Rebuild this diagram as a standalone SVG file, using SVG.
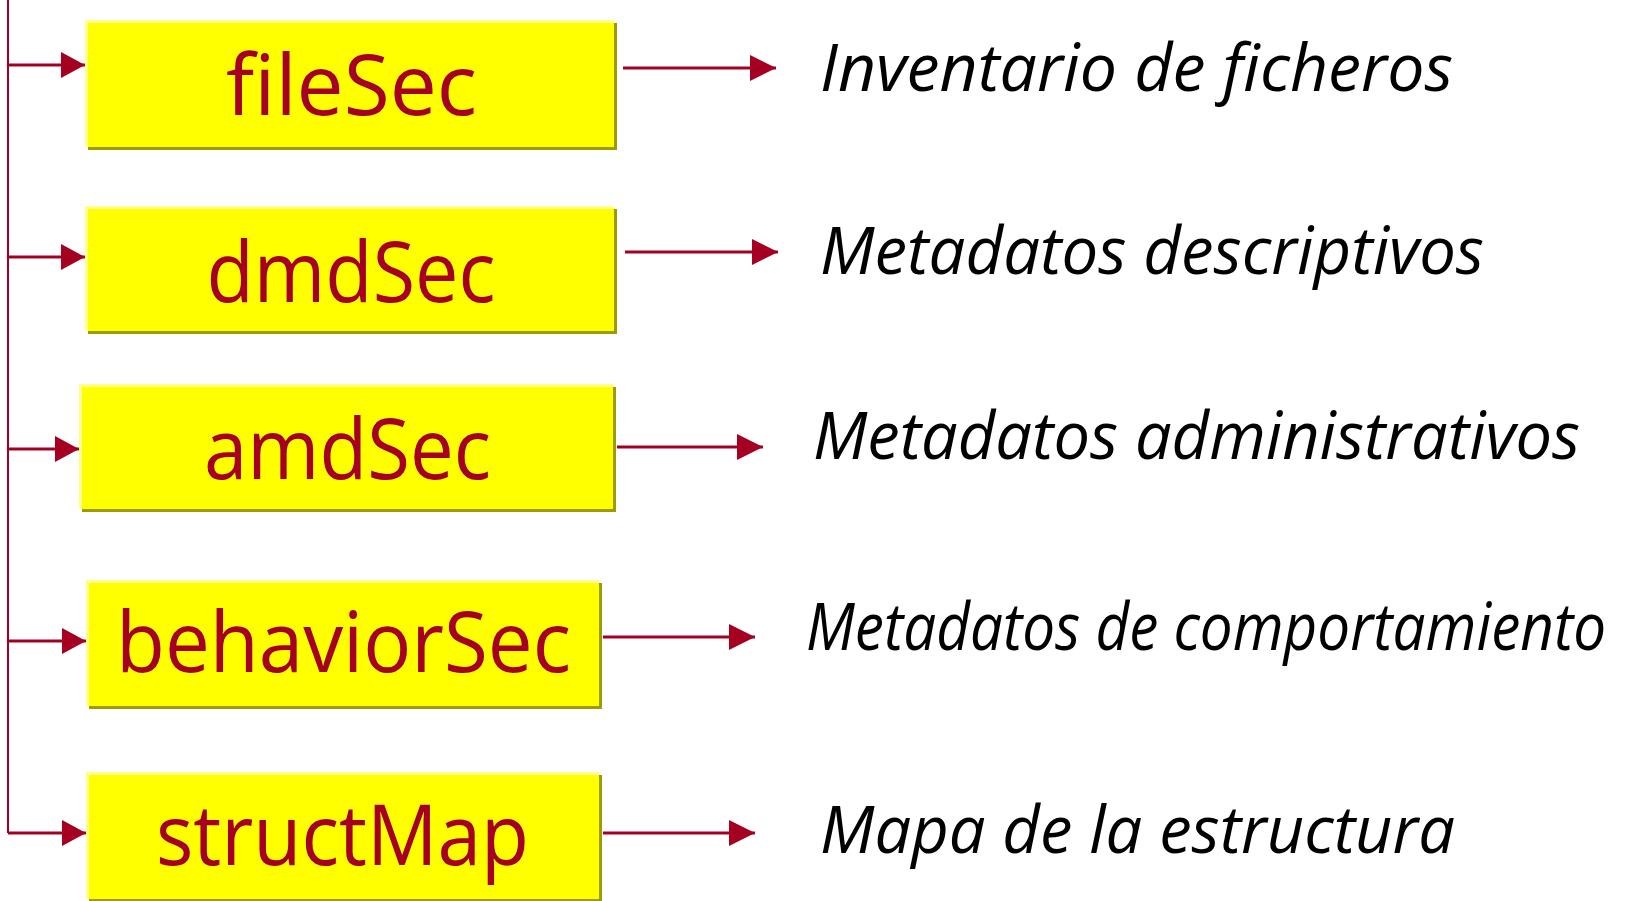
<svg xmlns="http://www.w3.org/2000/svg" width="1640" height="901" viewBox="0 0 1640 901">
<defs>
<style>
.shadow{fill:#9c9c00}
.rim{fill:#ffff8c}
.face{fill:#ffff00}
.lbl{font-family:"Open Sans","Noto Sans","DejaVu Sans",sans-serif;font-size:85px;fill:#a50021;text-anchor:middle}
.desc{font-family:"Open Sans","Noto Sans","DejaVu Sans",sans-serif;font-style:italic;font-size:66px;fill:#000}
.ln{stroke:#a50021;stroke-width:3;fill:none}
.trunk{stroke:#a50021;stroke-width:2;fill:none}
</style>
<marker id="ah" viewBox="0 0 24 26" refX="24" refY="13" markerWidth="24" markerHeight="26" markerUnits="userSpaceOnUse" orient="auto">
<path d="M0,0 L24,13 L0,26 Z" fill="#a50021"/>
</marker>
<marker id="ah2" viewBox="0 0 26 26" refX="26" refY="13" markerWidth="26" markerHeight="26" markerUnits="userSpaceOnUse" orient="auto">
<path d="M0,0 L26,13 L0,26 Z" fill="#a50021"/>
</marker>
</defs>
<rect width="1640" height="901" fill="#fff"/>
<g id="connectors">
<path class="trunk" d="M8,0 V833"/>
<path class="ln" d="M8,65 H85" marker-end="url(#ah)"/>
<path class="ln" d="M8,257 H85" marker-end="url(#ah)"/>
<path class="ln" d="M8,449 H79" marker-end="url(#ah)"/>
<path class="ln" d="M8,641 H86" marker-end="url(#ah)"/>
<path class="ln" d="M8,833 H86" marker-end="url(#ah)"/>
<path class="ln" d="M623,68 H776" marker-end="url(#ah2)"/>
<path class="ln" d="M625,252 H778" marker-end="url(#ah2)"/>
<path class="ln" d="M617,447 H763" marker-end="url(#ah2)"/>
<path class="ln" d="M603,637 H755" marker-end="url(#ah2)"/>
<path class="ln" d="M603,833 H755" marker-end="url(#ah2)"/>
</g>
<g id="fileSec">
<rect class="shadow" x="88" y="23" width="529" height="127"/>
<rect class="rim" x="85" y="20" width="529" height="127"/>
<rect class="face" x="88" y="23" width="526" height="124"/>
<text class="lbl" x="351.5" y="115" textLength="251" lengthAdjust="spacingAndGlyphs">fileSec</text>
</g>
<g id="dmdSec">
<rect class="shadow" x="88" y="209" width="529" height="125"/>
<rect class="rim" x="85" y="206" width="529" height="125"/>
<rect class="face" x="88" y="209" width="526" height="122"/>
<text class="lbl" x="351" y="302" textLength="289" lengthAdjust="spacingAndGlyphs">dmdSec</text>
</g>
<g id="amdSec">
<rect class="shadow" x="82" y="387" width="534" height="125"/>
<rect class="rim" x="79" y="384" width="534" height="125"/>
<rect class="face" x="82" y="387" width="531" height="122"/>
<text class="lbl" x="347.5" y="479" textLength="287" lengthAdjust="spacingAndGlyphs">amdSec</text>
</g>
<g id="behaviorSec">
<rect class="shadow" x="89" y="583" width="513" height="126"/>
<rect class="rim" x="86" y="580" width="513" height="126"/>
<rect class="face" x="89" y="583" width="510" height="123"/>
<text class="lbl" x="343.5" y="672" textLength="455" lengthAdjust="spacingAndGlyphs">behaviorSec</text>
</g>
<g id="structMap">
<rect class="shadow" x="89" y="775" width="513" height="127"/>
<rect class="rim" x="86" y="772" width="513" height="127"/>
<rect class="face" x="89" y="775" width="510" height="124"/>
<text class="lbl" x="342.5" y="865" textLength="373" lengthAdjust="spacingAndGlyphs">structMap</text>
</g>
<g id="descriptions">
<text class="desc" x="820" y="91" textLength="633" lengthAdjust="spacingAndGlyphs">Inventario de ficheros</text>
<text class="desc" x="820" y="274" textLength="664" lengthAdjust="spacingAndGlyphs">Metadatos descriptivos</text>
<text class="desc" x="813" y="459" textLength="767" lengthAdjust="spacingAndGlyphs">Metadatos administrativos</text>
<text class="desc" x="0" y="0" font-size="56" transform="translate(806,650) scale(1,1.18)" style="font-size:56px" textLength="800" lengthAdjust="spacingAndGlyphs">Metadatos de comportamiento</text>
<text class="desc" x="820" y="853" textLength="635" lengthAdjust="spacingAndGlyphs">Mapa de la estructura</text>
</g>
</svg>
